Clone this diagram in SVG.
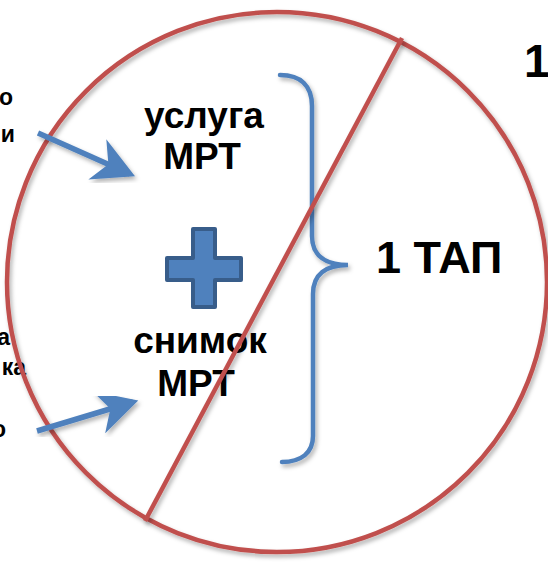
<svg xmlns="http://www.w3.org/2000/svg" width="548" height="562" viewBox="0 0 548 562">
<defs>
<style>
.t{font-family:"Liberation Sans",Arial,sans-serif;font-weight:bold;fill:#000}
.red{fill:none;stroke:#c0504d;stroke-width:4.5}
.blue{fill:none;stroke:#4f81bd;stroke-width:4.5;stroke-linecap:round}
.arr{fill:none;stroke:#4f81bd;stroke-width:5.5}
</style>
<filter id="sh" x="-20%" y="-20%" width="140%" height="140%">
<feDropShadow dx="2" dy="3" stdDeviation="2" flood-color="#000" flood-opacity="0.3"/>
</filter>
<marker id="ah" markerWidth="8" markerHeight="8" refX="6.5" refY="4" orient="auto" markerUnits="strokeWidth" viewBox="0 0 8 8">
<path d="M0,0 L7.5,4 L0,8 L2.2,4 Z" fill="#4f81bd"/>
</marker>
</defs>
<rect width="548" height="562" fill="#fff"/>

<g id="side-labels">
<text class="t" x="13" y="105" font-size="23" text-anchor="end">о</text>
<text class="t" x="15" y="142" font-size="23" text-anchor="end">и</text>
<text class="t" x="10" y="345" font-size="23" text-anchor="end">а</text>
<text class="t" x="26" y="375" font-size="23" text-anchor="end">ка</text>
<text class="t" x="6" y="437" font-size="23" text-anchor="end">о</text>
</g>

<g id="circle">
<circle class="red" cx="277" cy="282" r="270" filter="url(#sh)"/>
</g>

<g id="usluga">
<text class="t" x="204" y="128" font-size="37" text-anchor="middle">услуга</text>
<text class="t" x="202" y="169" font-size="37" text-anchor="middle">МРТ</text>
</g>

<g id="snimok">
<text class="t" x="200" y="353" font-size="37" text-anchor="middle">снимок</text>
<text class="t" x="196" y="396" font-size="37" text-anchor="middle">МРТ</text>
</g>

<g id="plus">
<path d="M193,229 H215 V258 H241 V280 H215 V307 H193 V280 H167 V258 H193 Z" fill="#4f81bd" stroke="#385d8a" stroke-width="4" stroke-linejoin="round"/>
</g>

<g id="tap">
<text class="t" x="376" y="273" font-size="45">1 ТАП</text>
</g>

<g id="one">
<text class="t" x="524" y="77" font-size="46">1</text>
</g>

<g id="connectors">
<path class="blue" d="M280,75 C301,75 312,86 312,106 L312,236 C312,256 326,265 348,265 C326,265 313,274 313,294 L313,436 C313,453 301,462 282,462" filter="url(#sh)"/>
<line x1="402" y1="38" x2="145" y2="521" stroke="#c0504d" stroke-width="4.5" filter="url(#sh)"/>
<line class="arr" x1="38" y1="133" x2="130" y2="174" marker-end="url(#ah)" filter="url(#sh)"/>
<line class="arr" x1="37" y1="431" x2="133" y2="402" marker-end="url(#ah)" filter="url(#sh)"/>
</g>
</svg>
